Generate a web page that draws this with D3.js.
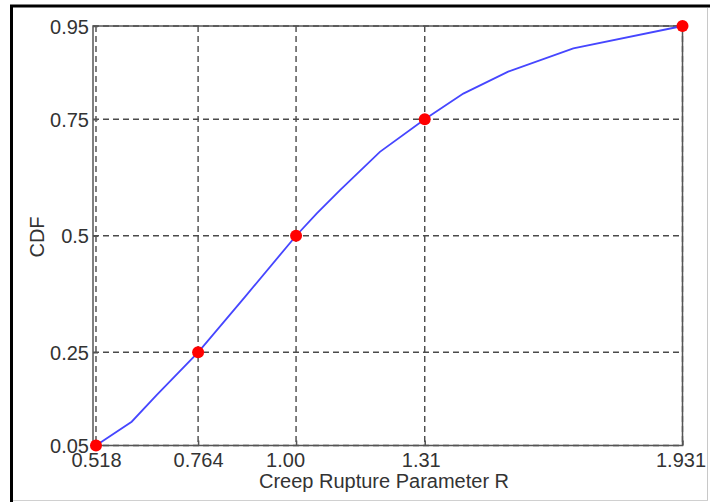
<!DOCTYPE html>
<html>
<head>
<meta charset="utf-8">
<script src="https://cdn.jsdelivr.net/npm/d3@7"></script>
<style>
  html, body { margin: 0; padding: 0; background: #ffffff; }
  svg { display: block; }
  text { font-family: "Liberation Sans", Arial, sans-serif; fill: #333333; }
</style>
</head>
<body>
<svg id="chart" width="710" height="502"></svg>
<script>
// Creep rupture parameter R and its cumulative distribution
const rValues   = [0.518, 0.604, 0.664, 0.764, 0.877, 1.00, 1.050, 1.106, 1.202, 1.31, 1.403, 1.511, 1.668, 1.931];
const cdfValues = [0.05, 0.101, 0.158, 0.25, 0.369, 0.50, 0.548, 0.598, 0.680, 0.75, 0.805, 0.852, 0.902, 0.95];

// Marked quantiles
const markR   = [0.518, 0.764, 1.00, 1.31, 1.931];
const markCdf = [0.05, 0.25, 0.5, 0.75, 0.95];

// Tick values and labels
const xTicks      = [0.518, 0.764, 1.00, 1.31, 1.931];
const xTickLabels = ["0.518", "0.764", "1.00", "1.31", "1.931"];
const yTicks      = [0.05, 0.25, 0.5, 0.75, 0.95];
const yTickLabels = ["0.05", "0.25", "0.5", "0.75", "0.95"];

const xTitle = "Creep Rupture Parameter R";
const yTitle = "CDF";

const svg = d3.select("#chart");
const W = 710, H = 502;

// Panel frame: dark top/left edges, light bottom/right edges
svg.append("line").attr("x1", 10).attr("x2", 710).attr("y1", 6).attr("y2", 6)
  .attr("stroke", "#000").attr("stroke-width", 3);
svg.append("line").attr("x1", 11.5).attr("x2", 11.5).attr("y1", 5).attr("y2", 502)
  .attr("stroke", "#000").attr("stroke-width", 3);
svg.append("line").attr("x1", 707.5).attr("x2", 707.5).attr("y1", 8).attr("y2", 501)
  .attr("stroke", "#c8c8c8").attr("stroke-width", 1);
svg.append("line").attr("x1", 13).attr("x2", 708).attr("y1", 500.5).attr("y2", 500.5)
  .attr("stroke", "#d0d0d0").attr("stroke-width", 1);

const plot = { left: 93, right: 682.5, top: 26, bottom: 445.5 };

const x = d3.scaleLinear().domain([0.5108, 1.931]).range([plot.left, plot.right]);
const y = d3.scaleLinear().domain([0.05, 0.95]).range([plot.bottom, plot.top]);

const g = svg.append("g");

// Dashed grid at the tick positions
const gridColor = "#4a4a4a";
g.append("g").selectAll("line").data(xTicks).join("line")
  .attr("x1", d => x(d)).attr("x2", d => x(d))
  .attr("y1", plot.top).attr("y2", plot.bottom)
  .attr("stroke", gridColor).attr("stroke-width", 1.4)
  .attr("stroke-dasharray", "6,4");
g.append("g").selectAll("line").data(yTicks).join("line")
  .attr("x1", plot.left).attr("x2", plot.right)
  .attr("y1", d => y(d)).attr("y2", d => y(d))
  .attr("stroke", gridColor).attr("stroke-width", 1.4)
  .attr("stroke-dasharray", "6,4");

// Axes box
g.append("rect")
  .attr("x", plot.left).attr("y", plot.top)
  .attr("width", plot.right - plot.left).attr("height", plot.bottom - plot.top)
  .attr("fill", "none").attr("stroke", "#555555").attr("stroke-width", 1.5);

// Bottom axis: inward ticks and labels
const xAxis = d3.axisBottom(x)
  .tickValues(xTicks)
  .tickFormat((d, i) => xTickLabels[i])
  .tickSizeInner(-5).tickSizeOuter(0).tickPadding(10);
const xAxisG = g.append("g").attr("transform", `translate(0,${plot.bottom})`).call(xAxis);
xAxisG.select(".domain").remove();
xAxisG.selectAll(".tick line").attr("stroke", "#555555").attr("stroke-width", 1.5);
// small label nudges so neighbouring labels don't crowd the ticks
const xLabelNudge = { "1.00": -11, "1.31": -4, "1.931": -2 };
xAxisG.selectAll(".tick text")
  .attr("font-size", 20).attr("fill", "#333")
  .attr("font-family", "Liberation Sans, Arial, sans-serif")
  .attr("dy", null).attr("y", 21)
  .attr("dx", (d, i) => xLabelNudge[xTickLabels[i]] || 0);

// Left axis
const yAxis = d3.axisLeft(y)
  .tickValues(yTicks)
  .tickFormat((d, i) => yTickLabels[i])
  .tickSizeInner(-5).tickSizeOuter(0).tickPadding(4);
const yAxisG = g.append("g").attr("transform", `translate(${plot.left},0)`).call(yAxis);
yAxisG.select(".domain").remove();
yAxisG.selectAll(".tick line").attr("stroke", "#555555").attr("stroke-width", 1.5);
yAxisG.selectAll(".tick text")
  .attr("font-size", 20).attr("fill", "#333")
  .attr("font-family", "Liberation Sans, Arial, sans-serif")
  .attr("x", -4).attr("dy", "0.36em");

// CDF curve
const pts = rValues.map((r, i) => [r, cdfValues[i]]);
g.append("path").datum(pts)
  .attr("fill", "none").attr("stroke", "#4646ff").attr("stroke-width", 1.8)
  .attr("d", d3.line().x(d => x(d[0])).y(d => y(d[1])));

// Quantile markers
g.append("g").selectAll("circle").data(markR).join("circle")
  .attr("cx", d => x(d)).attr("cy", (d, i) => y(markCdf[i]))
  .attr("r", 6).attr("fill", "#ff0000");

// Axis titles
svg.append("text")
  .attr("x", 384).attr("y", 488)
  .attr("text-anchor", "middle").attr("font-size", 20)
  .text(xTitle);
svg.append("text")
  .attr("transform", "translate(43.5,237) rotate(-90)")
  .attr("text-anchor", "middle").attr("font-size", 20)
  .text(yTitle);
</script>
</body>
</html>
